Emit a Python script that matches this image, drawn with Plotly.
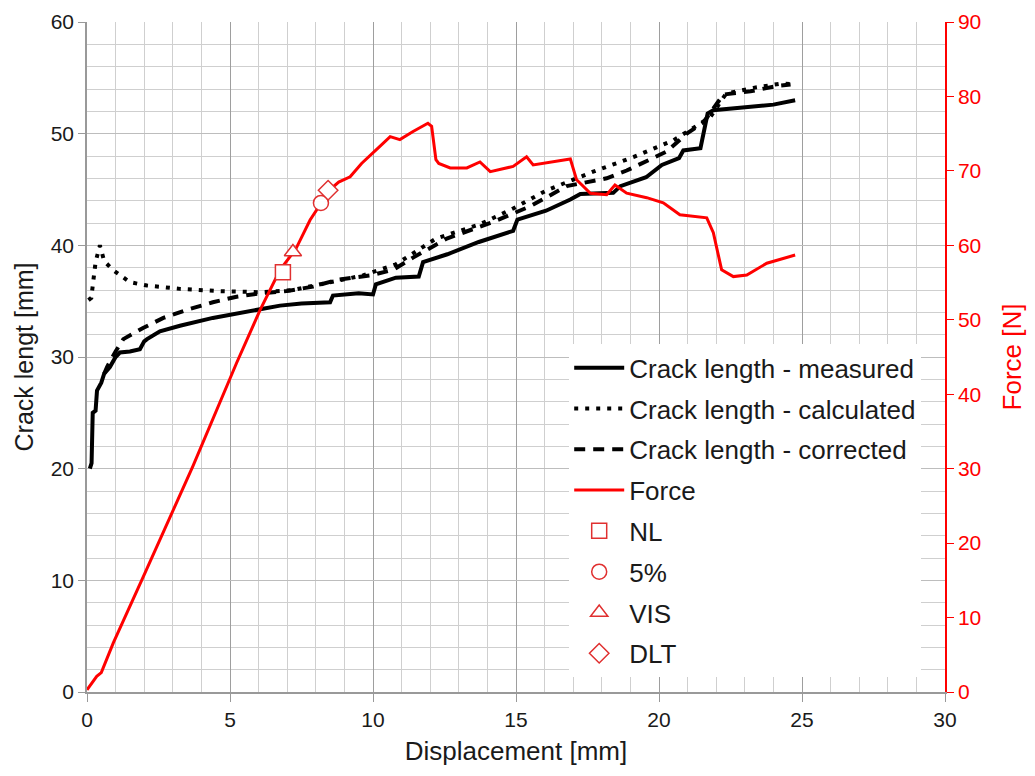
import plotly.graph_objects as go

# ---- data ----
meas_x = [0.1, 0.16, 0.2, 0.3, 0.35, 0.5, 0.6, 0.8, 1.0, 1.15, 1.5, 1.85, 2.0, 2.1, 2.55, 3.25, 4.4, 5.6, 6.75,
          7.5, 8.5, 8.6, 9.5, 10.0, 10.1, 10.8, 11.6, 11.75, 12.6, 13.7, 14.9, 15.05, 16.05, 16.9, 17.25, 18.4,
          18.65, 19.55, 20.1, 20.7, 20.85, 21.45, 21.7, 21.9, 22.8, 24.0, 24.76]
meas_y = [20.0, 20.5, 25.0, 25.2, 27.0, 27.7, 28.5, 29.1, 30.0, 30.4, 30.5, 30.7, 31.4, 31.6, 32.3, 32.8, 33.5,
          34.1, 34.6, 34.8, 34.9, 35.5, 35.7, 35.6, 36.5, 37.1, 37.2, 38.5, 39.2, 40.3, 41.3, 42.3, 43.1, 44.1,
          44.6, 44.7, 45.3, 46.1, 47.2, 47.8, 48.5, 48.7, 51.8, 52.1, 52.3, 52.6, 53.0]

calc_x = [0.05, 0.15, 0.3, 0.45, 0.6, 0.9, 1.5, 2.1, 3.25, 4.65, 6.05, 7.2, 8.5, 9.65, 10.8, 12.2, 13.75, 14.9,
          16.05, 17.7, 19.1, 20.5, 21.5, 21.8, 22.35, 23.3, 24.3, 24.8]
calc_y = [35.1, 35.3, 38.5, 40.0, 38.6, 37.8, 36.7, 36.4, 36.1, 35.9, 35.8, 36.0, 36.7, 37.3, 38.3, 40.6, 41.9,
          43.3, 44.9, 46.6, 47.9, 49.4, 51.0, 51.5, 53.6, 54.1, 54.5, 54.4]

corr_x = [0.6, 0.7, 1.0, 1.27, 1.96, 2.67, 3.6, 4.4, 5.23, 6.05, 6.98, 7.9, 8.73, 9.9, 10.7, 11.4, 12.58, 14.3,
          15.5, 16.77, 18.17, 18.87, 20.27, 20.97, 21.55, 22.25, 23.2, 24.2, 24.6]
corr_y = [28.5, 29.1, 30.5, 31.6, 32.6, 33.5, 34.3, 34.9, 35.4, 35.7, 35.9, 36.3, 36.9, 37.3, 37.8, 38.9, 40.6,
          42.2, 43.5, 45.3, 46.0, 46.7, 48.4, 50.0, 51.0, 53.5, 53.8, 54.3, 54.4]

force_x = [0, 0.34, 0.5, 0.92, 1.97, 3.0, 3.7, 5.23, 6.05, 6.75, 7.3, 7.8, 8.2, 8.5, 8.8, 9.2, 9.6, 10.0, 10.24,
           10.6, 10.94, 11.4, 11.92, 12.05, 12.2, 12.3, 12.7, 13.28, 13.74, 14.1, 14.9, 15.37, 15.6, 16.9, 17.12,
           17.6, 18.17, 18.46, 18.87, 19.57, 20.15, 20.73, 21.67, 21.9, 22.19, 22.6, 23.07, 23.77, 24.76]
force_y = [0.3, 2.1, 2.6, 6.6, 15.5, 24.4, 30.3, 44.2, 51.3, 56.7, 59.5, 63.4, 65.8, 67.5, 68.5, 69.2, 71.0, 72.5,
           73.3, 74.6, 74.2, 75.3, 76.4, 76.0, 71.5, 71.0, 70.4, 70.4, 71.2, 69.9, 70.6, 71.9, 70.8, 71.6, 68.8,
           67.0, 66.8, 68.1, 67.0, 66.4, 65.7, 64.1, 63.7, 61.7, 56.7, 55.8, 56.0, 57.6, 58.7]

point_names = ["NL", "5%", "VIS", "DLT"]
point_x = [6.85, 8.18, 7.2, 8.43]
point_y = [56.4, 65.7, 59.1, 67.4]
point_symbols = ["square", "circle", "triangle-up", "diamond"]

RED = "#ff0000"
TXT = "#1a1a1a"
FONT = "Liberation Sans, Arial, sans-serif"

fig = go.Figure()
fig.add_trace(go.Scatter(x=meas_x, y=meas_y, mode="lines", name="Crack length - measured",
                         line=dict(color="black", width=4), legendgroup="a"))
fig.add_trace(go.Scatter(x=calc_x, y=calc_y, mode="lines", name="Crack length - calculated",
                         line=dict(color="black", width=4, dash="4px,7px"), legendgroup="b"))
fig.add_trace(go.Scatter(x=corr_x, y=corr_y, mode="lines", name="Crack length - corrected",
                         line=dict(color="black", width=4, dash="11px,8px"), legendgroup="c"))
fig.add_trace(go.Scatter(x=force_x, y=force_y, mode="lines", name="Force", yaxis="y2",
                         line=dict(color=RED, width=3), legendgroup="d"))
for i, nm in enumerate(point_names):
    fig.add_trace(go.Scatter(x=[point_x[i]], y=[point_y[i]], mode="markers", name=nm, yaxis="y2",
                             marker=dict(symbol=point_symbols[i], size=15, color="white",
                                         line=dict(width=1.5, color="#e03030")),
                             legendgroup="m" + str(i)))

fig.update_layout(
    width=1019, height=760,
    margin=dict(l=79, r=82, t=14, b=76),
    paper_bgcolor="white", plot_bgcolor="white",
    font=dict(family=FONT, size=21, color=TXT),
    xaxis=dict(range=[0, 30], dtick=5, showgrid=True, gridcolor="#9e9e9e", gridwidth=1,
               minor=dict(dtick=1, showgrid=True, gridcolor="#cfcfcf", gridwidth=1),
               showline=True, linecolor="#999999", linewidth=1.5, ticks="outside", ticklen=8,
               tickcolor="#999999", zeroline=False, automargin=False,
               tickfont=dict(size=21, color=TXT),
               title=dict(text="Displacement [mm]", font=dict(size=26, color=TXT), standoff=12)),
    yaxis=dict(range=[0, 60], dtick=10, showgrid=True, gridcolor="#bdbdbd", gridwidth=1,
               minor=dict(dtick=2, showgrid=True, gridcolor="#cfcfcf", gridwidth=1),
               showline=True, linecolor="#999999", linewidth=1.5, ticks="outside", ticklen=7,
               tickcolor="#999999", zeroline=False, automargin=False,
               tickfont=dict(size=21, color=TXT),
               title=dict(text="Crack lengt [mm]", font=dict(size=25, color=TXT), standoff=10)),
    yaxis2=dict(range=[0, 90], dtick=10, overlaying="y", side="right", showgrid=False,
                showline=True, linecolor=RED, linewidth=1.5, ticks="outside", ticklen=7, tickcolor=RED,
                tickfont=dict(color=RED, size=21), zeroline=False, automargin=False,
                title=dict(text="Force [N]", font=dict(size=26, color=RED), standoff=22)),
    legend=dict(x=0.562, y=0.519, xanchor="left", yanchor="top", bgcolor="white",
                font=dict(size=26, color=TXT, family=FONT), tracegroupgap=4, traceorder="grouped",
                itemwidth=50),
    showlegend=True,
)

fig.write_html("out.html")
